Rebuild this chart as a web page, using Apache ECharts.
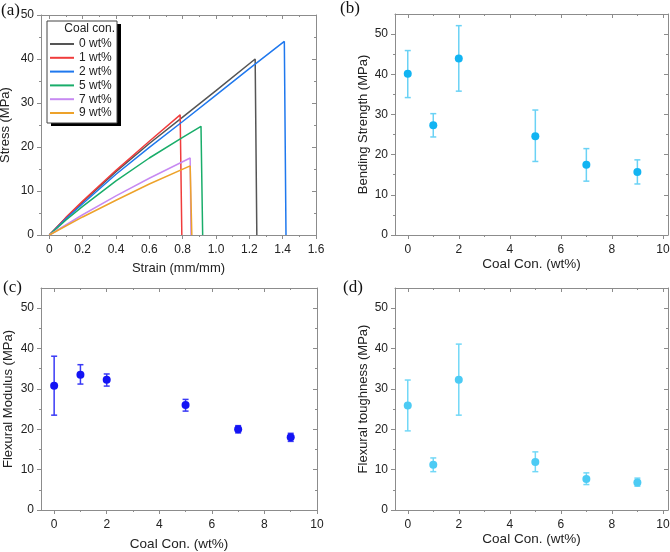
<!DOCTYPE html>
<html>
<head>
<meta charset="utf-8">
<script src="https://cdn.jsdelivr.net/npm/echarts@6/dist/echarts.min.js"></script>
<style>
  html, body { margin: 0; padding: 0; background: #fff; }
  #main { width: 670px; height: 552px; }
</style>
</head>
<body>
<div id="main"></div>
<script>
// ---- data ----
// (a) stress-strain curves, [strain, stress]
const names = ['0 wt%', '1 wt%', '2 wt%', '5 wt%', '7 wt%', '9 wt%']
const curve0 = [[0, 0], [0.1, 3.9], [0.2, 7.5], [0.4, 14.4], [0.6, 20.8], [0.8, 26.8], [1.0, 32.8], [1.235, 40.0], [1.245, 0]]
const curve1 = [[0, 0], [0.1, 4.0], [0.2, 7.7], [0.4, 14.7], [0.6, 21.3], [0.785, 27.3], [0.795, 0]]
const curve2 = [[0, 0], [0.1, 3.7], [0.2, 7.1], [0.4, 13.8], [0.6, 19.9], [0.8, 25.8], [1.0, 31.8], [1.2, 37.8], [1.41, 44.0], [1.42, 0]]
const curve5 = [[0, 0], [0.1, 3.4], [0.2, 6.5], [0.4, 12.3], [0.6, 17.5], [0.8, 22.2], [0.91, 24.7], [0.92, 0]]
const curve7 = [[0, 0], [0.2, 4.6], [0.4, 8.9], [0.6, 12.9], [0.845, 17.5], [0.85, 0]]
const curve9 = [[0, 0], [0.2, 4.1], [0.4, 7.9], [0.6, 11.6], [0.845, 15.7], [0.855, 0]]

// (b)(c)(d) coal content
const coal = [0, 1, 2, 5, 7, 9]
const strengthMean = [40.1, 27.3, 43.9, 24.6, 17.5, 15.7]
const strengthHigh = [45.9, 30.2, 52.1, 31.1, 21.5, 18.7]
const strengthLow = [34.2, 24.4, 35.8, 18.3, 13.4, 12.7]
const modulusMean = [30.8, 33.5, 32.3, 26.0, 20.0, 18.0]
const modulusHigh = [38.1, 36.0, 33.7, 27.4, 20.9, 19.0]
const modulusLow = [23.5, 31.2, 30.7, 24.5, 19.1, 17.0]
const toughMean = [25.9, 11.2, 32.3, 11.9, 7.7, 6.8]
const toughHigh = [32.2, 12.9, 41.1, 14.4, 9.2, 7.9]
const toughLow = [19.6, 9.5, 23.5, 9.5, 6.3, 5.9]

// tick positions
const strainTicks = [0, 0.2, 0.4, 0.6, 0.8, 1.0, 1.2, 1.4, 1.6]
const strainMinor = [0.1, 0.3, 0.5, 0.7, 0.9, 1.1, 1.3, 1.5]
const stressTicks = [0, 10, 20, 30, 40, 50]
const stressMinor = [5, 15, 25, 35, 45]
const coalTicks = [0, 2, 4, 6, 8, 10]
const coalMinor = [1, 3, 5, 7, 9]

const curveColors = ['#555555', '#f03c3c', '#1f78ee', '#19ad6a', '#c78af2', '#eda22a']
const axisColor = '#8c8c8c'
const font = '"Liberation Sans", Arial, sans-serif'

// 四边坐标轴: 底/左 外刻度带标签, 顶/右 内刻度
function makeAxes(dim, grid, min, max, major, minor, cfg) {
    const sides = dim === 'x' ? ['bottom', 'top'] : ['left', 'right']
    const list = []
    sides.forEach((pos, k) => {
        const outer = k === 0
        ;[major, minor].forEach((ticks, j) => {
            const main = outer && j === 0
            list.push({
                type: 'value',
                gridIndex: grid,
                position: pos,
                min: min,
                max: max,
                axisLine: { show: j === 0, onZero: false, lineStyle: { color: axisColor, width: 1 } },
                axisTick: { show: true, inside: !outer, length: j === 0 ? 4 : 2, customValues: ticks, lineStyle: { color: axisColor, width: 1 } },
                axisLabel: {
                    show: main,
                    customValues: ticks,
                    margin: dim === 'x' ? 9 : 7,
                    color: '#222',
                    fontSize: 12,
                    fontFamily: font,
                    formatter: cfg.formatter,
                },
                splitLine: { show: false },
                name: main ? cfg.name : '',
                nameLocation: 'middle',
                nameGap: cfg.nameGap,
                nameTextStyle: { color: '#222', fontSize: cfg.nameSize || 13, fontFamily: font },
            })
        })
    })
    return list
}

const grids = [
    { left: 41, top: 15, width: 275, height: 220 },
    { left: 395, top: 14, width: 273, height: 221 },
    { left: 41, top: 288, width: 276, height: 222 },
    { left: 395, top: 288, width: 273, height: 222 },
]

const xAxes = [].concat(
    makeAxes('x', 0, -0.05, 1.6, strainTicks, strainMinor, { name: 'Strain (mm/mm)', nameGap: 27, formatter: v => (v === 0 ? '0' : v.toFixed(1)) }),
    makeAxes('x', 1, -0.5, 10.2, coalTicks, coalMinor, { name: 'Coal Con. (wt%)', nameGap: 20, nameSize: 13.5 }),
    makeAxes('x', 2, -0.5, 10, coalTicks, coalMinor, { name: 'Coal Con. (wt%)', nameGap: 27, nameSize: 13.5 }),
    makeAxes('x', 3, -0.5, 10.2, coalTicks, coalMinor, { name: 'Coal Con. (wt%)', nameGap: 21, nameSize: 13.5 })
)
const yAxes = [].concat(
    makeAxes('y', 0, 0, 50, stressTicks, stressMinor, { name: 'Stress (MPa)', nameGap: 29 }),
    makeAxes('y', 1, 0, 55, stressTicks, stressMinor, { name: 'Bending Strength (MPa)', nameGap: 25 }),
    makeAxes('y', 2, 0, 55, stressTicks, stressMinor, { name: 'Flexural Modulus (MPa)', nameGap: 26 }),
    makeAxes('y', 3, 0, 55, stressTicks, stressMinor, { name: 'Flexural toughness (MPa)', nameGap: 25 })
)

const curves = [curve0, curve1, curve2, curve5, curve7, curve9]
const series = curves.map((c, i) => ({
    name: names[i],
    type: 'line',
    xAxisIndex: 0,
    yAxisIndex: 0,
    data: c,
    symbol: 'none',
    smooth: false,
    lineStyle: { color: curveColors[i], width: 1.5 },
    itemStyle: { color: curveColors[i] },
    z: 3,
}))

// 误差棒 (custom) + 散点
function errorPanel(p, mean, low, high, dotColor, barColor) {
    const idx = p * 4
    series.push({
        type: 'custom',
        xAxisIndex: idx,
        yAxisIndex: idx,
        data: coal.map((x, i) => [x, low[i], high[i]]),
        renderItem: (params, api) => {
            const lo = api.coord([api.value(0), api.value(1)])
            const hi = api.coord([api.value(0), api.value(2)])
            const cap = 3
            const style = { stroke: barColor, lineWidth: 1.5 }
            return {
                type: 'group',
                children: [
                    { type: 'line', shape: { x1: lo[0], y1: lo[1], x2: hi[0], y2: hi[1] }, style: style },
                    { type: 'line', shape: { x1: lo[0] - cap, y1: lo[1], x2: lo[0] + cap, y2: lo[1] }, style: style },
                    { type: 'line', shape: { x1: hi[0] - cap, y1: hi[1], x2: hi[0] + cap, y2: hi[1] }, style: style },
                ],
            }
        },
        z: 2,
    })
    series.push({
        type: 'scatter',
        xAxisIndex: idx,
        yAxisIndex: idx,
        data: coal.map((x, i) => [x, mean[i]]),
        symbolSize: 8,
        itemStyle: { color: dotColor, opacity: 1 },
        z: 3,
    })
}
errorPanel(1, strengthMean, strengthLow, strengthHigh, '#12b4f2', '#6ad2f5')
errorPanel(2, modulusMean, modulusLow, modulusHigh, '#1414f4', '#3a3af6')
errorPanel(3, toughMean, toughLow, toughHigh, '#4ccbf4', '#72d8f7')

const panelLabel = (text, x, y) => ({
    type: 'text',
    left: x,
    top: y,
    z: 20,
    style: { text: text, font: '17px "Liberation Serif", "DejaVu Serif", serif', fill: '#111' },
})

const chart = echarts.init(document.getElementById('main'), null, { renderer: 'canvas' })
chart.setOption({
    animation: false,
    backgroundColor: '#fff',
    grid: grids.map(g => Object.assign({ outerBoundsMode: 'none', containLabel: false }, g)),
    xAxis: xAxes,
    yAxis: yAxes,
    legend: {
        data: names,
        orient: 'vertical',
        left: 49,
        top: 38,
        padding: 0,
        itemWidth: 24,
        itemHeight: 14,
        itemGap: 1.8,
        itemStyle: { opacity: 0 },
        textStyle: { color: '#222', fontSize: 12, fontFamily: font },
        selectedMode: false,
        z: 30,
    },
    graphic: [
        panelLabel('(a)', 1, 2),
        panelLabel('(b)', 340, 0),
        panelLabel('(c)', 3, 279),
        panelLabel('(d)', 343, 279),
        // 图例边框和黑色阴影
        { type: 'rect', z: 25, shape: { x: 51, y: 24, width: 70, height: 102 }, style: { fill: '#000' } },
        { type: 'rect', z: 26, shape: { x: 47, y: 21, width: 70, height: 102 }, style: { fill: '#fff', stroke: '#444', lineWidth: 1 } },
        {
            type: 'text',
            right: 670 - 115,
            top: 23,
            z: 31,
            style: { text: 'Coal con.', font: '12px ' + font, fill: '#222' },
        },
    ],
    series: series,
})
</script>
</body>
</html>
